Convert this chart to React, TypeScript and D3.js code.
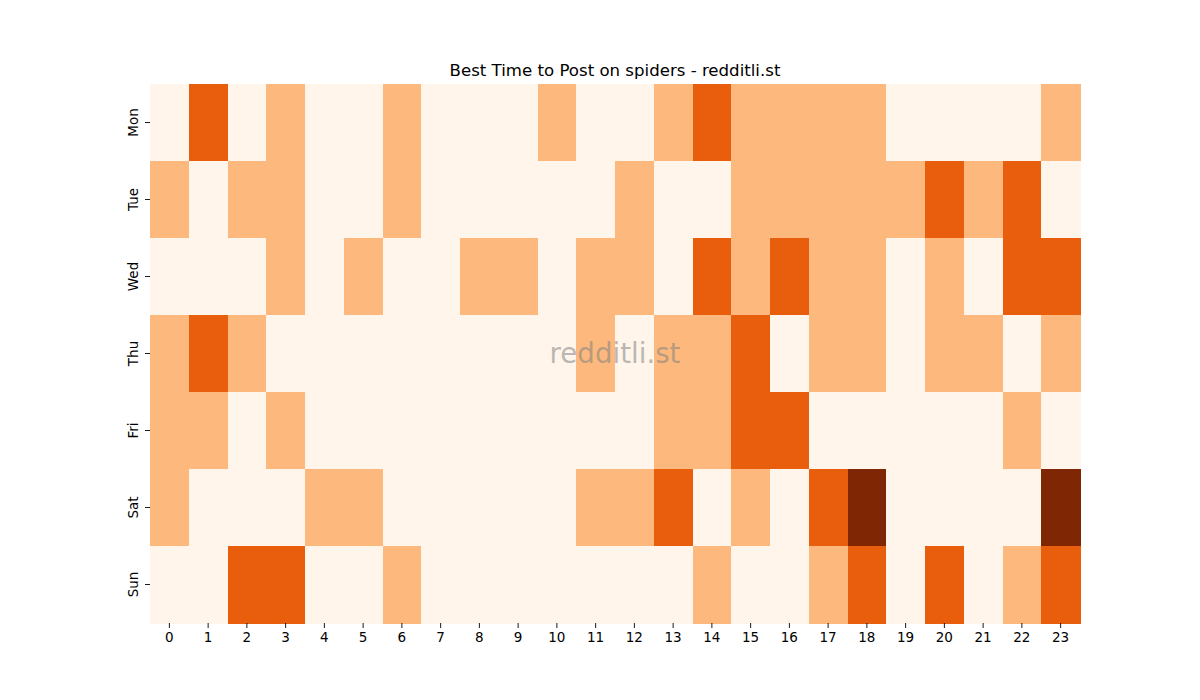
import React from "react";
import * as d3 from "d3";

const days = ["Mon", "Tue", "Wed", "Thu", "Fri", "Sat", "Sun"];
const hours = Array.from({ length: 24 }, (_, i) => String(i));

const mon = [0, 2, 0, 1, 0, 0, 1, 0, 0, 0, 1, 0, 0, 1, 2, 1, 1, 1, 1, 0, 0, 0, 0, 1];
const tue = [1, 0, 1, 1, 0, 0, 1, 0, 0, 0, 0, 0, 1, 0, 0, 1, 1, 1, 1, 1, 2, 1, 2, 0];
const wed = [0, 0, 0, 1, 0, 1, 0, 0, 1, 1, 0, 1, 1, 0, 2, 1, 2, 1, 1, 0, 1, 0, 2, 2];
const thu = [1, 2, 1, 0, 0, 0, 0, 0, 0, 0, 0, 1, 0, 1, 1, 2, 0, 1, 1, 0, 1, 1, 0, 1];
const fri = [1, 1, 0, 1, 0, 0, 0, 0, 0, 0, 0, 0, 0, 1, 1, 2, 2, 0, 0, 0, 0, 0, 1, 0];
const sat = [1, 0, 0, 0, 1, 1, 0, 0, 0, 0, 0, 1, 1, 2, 0, 1, 0, 2, 3, 0, 0, 0, 0, 3];
const sun = [0, 0, 2, 2, 0, 0, 1, 0, 0, 0, 0, 0, 0, 0, 1, 0, 0, 1, 2, 0, 2, 0, 1, 2];

const rows = [mon, tue, wed, thu, fri, sat, sun];
const levelColors = ["#fff5eb", "#fdb97d", "#e95e0d", "#7f2704"];

export default function App() {
  const W = 1200, H = 700;
  const left = 150, right = 1080, top = 84, bottom = 623;
  const x = d3.scaleBand<string>().domain(hours).range([left, right]);
  const y = d3.scaleBand<string>().domain(days).range([top, bottom]);
  const color = d3.scaleOrdinal<number, string>().domain([0, 1, 2, 3]).range(levelColors);
  const font = "'DejaVu Sans', sans-serif";

  return (
    <svg width={W} height={H} style={{ position: "absolute", left: 0, top: 0, background: "#fff" }} fontFamily={font}>
      <g shapeRendering="crispEdges">
        {rows.map((r, ri) =>
          r.map((v, ci) => (
            <rect
              key={`${ri}-${ci}`}
              x={x(hours[ci])!}
              y={y(days[ri])!}
              width={x.bandwidth() + 0.6}
              height={y.bandwidth() + 0.6}
              fill={color(v)}
            />
          ))
        )}
      </g>
      {hours.map((h) => {
        const cx = x(h)! + x.bandwidth() / 2;
        return (
          <g key={h}>
            <line x1={cx} x2={cx} y1={bottom} y2={bottom + 5} stroke="#000" strokeWidth={0.9} />
            <text x={cx} y={bottom + 19} textAnchor="middle" fontSize={13.5} fill="#000">{h}</text>
          </g>
        );
      })}
      {days.map((d) => {
        const cy = y(d)! + y.bandwidth() / 2;
        return (
          <g key={d}>
            <line x1={left - 5} x2={left} y1={cy} y2={cy} stroke="#000" strokeWidth={0.9} />
            <text
              transform={`translate(${left - 12},${cy}) rotate(-90)`}
              textAnchor="middle"
              fontSize={13.5}
              fill="#000"
            >{d}</text>
          </g>
        );
      })}
      <text x={(left + right) / 2} y={top - 8} textAnchor="middle" fontSize={16.6} fill="#000">
        Best Time to Post on spiders - redditli.st
      </text>
      <text x={(left + right) / 2} y={(top + bottom) / 2 + 9} textAnchor="middle" fontSize={27.7} fill="#808080" fillOpacity={0.55}>
        redditli.st
      </text>
    </svg>
  );
}
